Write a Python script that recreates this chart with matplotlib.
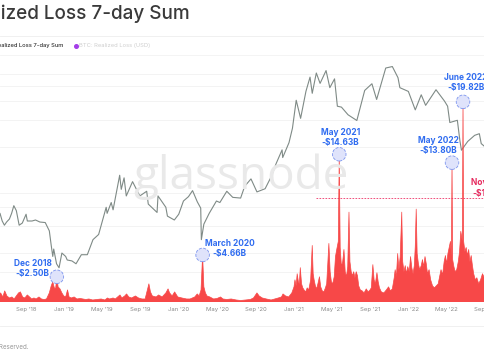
import matplotlib
matplotlib.use("Agg")
import matplotlib.pyplot as plt
import numpy as np
import pandas as pd

# ---------------- data ----------------
loss_dates = [
    "2018-05-28", "2018-06-01", "2018-06-05", "2018-06-12", "2018-06-19", "2018-06-25",
    "2018-07-02", "2018-07-10", "2018-07-18", "2018-07-25", "2018-08-01", "2018-08-08",
    "2018-08-14", "2018-08-21", "2018-08-28", "2018-09-05", "2018-09-12", "2018-09-19",
    "2018-09-26", "2018-10-03", "2018-10-12", "2018-10-20", "2018-10-28", "2018-11-05",
    "2018-11-14", "2018-11-20", "2018-11-25", "2018-11-30", "2018-12-04", "2018-12-08",
    "2018-12-12", "2018-12-18", "2018-12-24", "2018-12-30", "2019-01-05", "2019-01-11",
    "2019-01-16", "2019-01-23", "2019-02-01", "2019-02-10", "2019-02-20", "2019-03-01",
    "2019-03-10", "2019-03-20", "2019-04-01", "2019-04-15", "2019-04-28", "2019-05-10",
    "2019-05-18", "2019-05-25", "2019-06-05", "2019-06-12", "2019-06-27", "2019-07-03",
    "2019-07-12", "2019-07-18", "2019-07-25", "2019-08-03", "2019-08-15", "2019-08-25",
    "2019-09-05", "2019-09-15", "2019-09-27", "2019-10-02", "2019-10-08", "2019-10-20",
    "2019-10-28", "2019-11-08", "2019-11-20", "2019-11-27", "2019-12-02", "2019-12-10",
    "2019-12-18", "2019-12-28", "2020-01-10", "2020-01-25", "2020-02-05", "2020-02-20",
    "2020-02-28", "2020-03-05", "2020-03-11", "2020-03-16", "2020-03-20", "2020-03-25",
    "2020-03-30", "2020-04-08", "2020-04-20", "2020-05-01", "2020-05-12", "2020-05-20",
    "2020-06-01", "2020-06-15", "2020-07-01", "2020-07-15", "2020-08-01", "2020-08-15",
    "2020-08-25", "2020-09-05", "2020-09-12", "2020-09-22", "2020-10-05", "2020-10-20",
    "2020-11-01", "2020-11-12", "2020-11-22", "2020-11-27", "2020-12-05", "2020-12-15",
    "2020-12-25", "2021-01-01", "2021-01-04", "2021-01-08", "2021-01-11", "2021-01-15",
    "2021-01-18", "2021-01-21", "2021-01-25", "2021-01-29", "2021-02-02", "2021-02-07",
    "2021-02-12", "2021-02-17", "2021-02-23", "2021-02-28", "2021-03-03", "2021-03-06",
    "2021-03-10", "2021-03-14", "2021-03-18", "2021-03-23", "2021-03-27", "2021-04-01",
    "2021-04-06", "2021-04-11", "2021-04-15", "2021-04-19", "2021-04-22", "2021-04-26",
    "2021-04-30", "2021-05-04", "2021-05-09", "2021-05-13", "2021-05-17", "2021-05-22",
    "2021-05-25", "2021-05-28", "2021-06-01", "2021-06-05", "2021-06-09", "2021-06-13",
    "2021-06-17", "2021-06-21", "2021-06-25", "2021-06-28", "2021-07-02", "2021-07-06",
    "2021-07-10", "2021-07-14", "2021-07-18", "2021-07-22", "2021-07-26", "2021-07-31",
    "2021-08-06", "2021-08-12", "2021-08-19", "2021-08-25", "2021-08-31", "2021-09-04",
    "2021-09-09", "2021-09-13", "2021-09-17", "2021-09-22", "2021-09-26", "2021-09-30",
    "2021-10-06", "2021-10-14", "2021-10-22", "2021-10-29", "2021-11-04", "2021-11-10",
    "2021-11-16", "2021-11-19", "2021-11-23", "2021-11-27", "2021-12-01", "2021-12-05",
    "2021-12-10", "2021-12-13", "2021-12-17", "2021-12-21", "2021-12-25", "2021-12-29",
    "2022-01-03", "2022-01-07", "2022-01-11", "2022-01-15", "2022-01-19", "2022-01-22",
    "2022-01-25", "2022-01-28", "2022-02-01", "2022-02-05", "2022-02-10", "2022-02-14",
    "2022-02-18", "2022-02-22", "2022-02-26", "2022-03-02", "2022-03-07", "2022-03-12",
    "2022-03-18", "2022-03-24", "2022-03-30", "2022-04-05", "2022-04-10", "2022-04-14",
    "2022-04-19", "2022-04-24", "2022-04-28", "2022-05-02", "2022-05-06", "2022-05-10",
    "2022-05-14", "2022-05-17", "2022-05-19", "2022-05-21", "2022-05-25", "2022-05-29",
    "2022-06-03", "2022-06-08", "2022-06-12", "2022-06-16", "2022-06-21", "2022-06-23",
    "2022-06-25", "2022-06-29", "2022-07-03", "2022-07-07", "2022-07-11", "2022-07-15",
    "2022-07-19", "2022-07-23", "2022-07-27", "2022-08-01", "2022-08-06", "2022-08-12",
    "2022-08-18", "2022-08-24", "2022-08-30", "2022-09-05", "2022-09-15",
]
loss_values = [
    1.0, 1.3, 0.6, 0.9, 0.5, 1.1,
    0.6, 0.4, 0.5, 0.3, 0.6, 0.9,
    1.0, 0.5, 0.4, 0.7, 0.5, 0.3,
    0.4, 0.3, 0.5, 0.3, 0.25, 0.3,
    0.9, 1.6, 2.0, 1.4, 1.3, 2.50,
    1.5, 1.3, 0.9, 0.6, 0.5, 1.2,
    0.5, 0.4, 0.5, 0.3, 0.35, 0.3,
    0.25, 0.3, 0.2, 0.25, 0.3, 0.2,
    0.4, 0.3, 0.4, 0.3, 0.7, 0.4,
    0.6, 0.8, 0.5, 0.4, 0.6, 0.4,
    0.3, 0.3, 1.8, 1.0, 0.6, 0.5,
    0.7, 0.5, 0.9, 1.3, 0.9, 0.6,
    1.0, 0.5, 0.4, 0.3, 0.3, 0.5,
    0.8, 0.6, 1.2, 4.66, 1.5, 0.9,
    0.6, 0.5, 0.3, 0.35, 0.5, 0.3,
    0.25, 0.3, 0.2, 0.15, 0.2, 0.25,
    0.4, 0.9, 0.6, 0.4, 0.3, 0.2,
    0.3, 0.4, 0.5, 0.8, 0.6, 0.5,
    0.9, 1.5, 2.2, 1.6, 2.8, 2.0,
    1.8, 3.4, 1.8, 1.4, 1.2, 1.0,
    1.4, 1.2, 2.2, 5.6, 2.8, 2.2,
    1.6, 1.3, 1.8, 2.5, 1.5, 1.1,
    1.0, 1.4, 1.8, 4.0, 5.8, 3.0,
    2.0, 1.8, 2.5, 4.5, 5.2, 6.0,
    14.63, 5.4, 3.5, 4.0, 5.2, 3.0,
    2.5, 3.5, 8.9, 4.0, 3.0, 2.6,
    3.0, 2.4, 3.0, 2.6, 1.6, 1.2,
    1.1, 0.9, 1.3, 1.0, 1.2, 1.4,
    3.7, 2.2, 1.8, 2.9, 2.0, 1.4,
    1.0, 0.9, 1.2, 1.5, 1.1, 1.3,
    2.4, 3.2, 2.5, 4.8, 3.2, 4.5,
    8.9, 4.0, 3.0, 3.6, 2.8, 3.5,
    3.0, 4.5, 3.4, 2.8, 3.6, 5.5,
    9.2, 4.8, 3.8, 3.2, 3.6, 4.2,
    3.5, 4.5, 3.8, 2.8, 3.2, 2.2,
    1.6, 1.4, 1.6, 1.8, 2.6, 3.2,
    2.7, 4.0, 4.6, 3.8, 4.8, 5.4,
    6.0, 4.5, 13.80, 4.2, 3.5, 3.0,
    3.2, 4.0, 5.0, 7.0, 6.0, 19.82,
    6.0, 5.0, 5.4, 4.6, 5.2, 4.0,
    4.6, 3.6, 2.8, 2.2, 2.4, 1.8,
    2.2, 2.8, 2.4, 2.6, 2.5,
]

price_dates = [
    "2018-06-01", "2018-06-10", "2018-06-17", "2018-06-24", "2018-07-01", "2018-07-10",
    "2018-07-17", "2018-07-24", "2018-08-01", "2018-08-10", "2018-08-20", "2018-09-01",
    "2018-09-05", "2018-09-20", "2018-10-01", "2018-10-15", "2018-11-01", "2018-11-14",
    "2018-11-20", "2018-11-25", "2018-11-28", "2018-12-07", "2018-12-15", "2018-12-24",
    "2019-01-05", "2019-01-10", "2019-01-25", "2019-02-07", "2019-02-24", "2019-03-15",
    "2019-04-02", "2019-04-20", "2019-05-14", "2019-05-17", "2019-05-30", "2019-06-05",
    "2019-06-26", "2019-07-01", "2019-07-10", "2019-07-17", "2019-08-06", "2019-08-29",
    "2019-09-20", "2019-09-25", "2019-10-23", "2019-10-26", "2019-11-20", "2019-11-25",
    "2019-12-17", "2019-12-31", "2020-01-15", "2020-01-31", "2020-02-13", "2020-02-28",
    "2020-03-10", "2020-03-12", "2020-03-20", "2020-04-06", "2020-04-29", "2020-05-10",
    "2020-06-01", "2020-06-20", "2020-07-15", "2020-07-28", "2020-08-17", "2020-09-05",
    "2020-10-01", "2020-10-21", "2020-11-05", "2020-11-24", "2020-11-26", "2020-12-16",
    "2020-12-27", "2021-01-08", "2021-01-22", "2021-02-08", "2021-02-21", "2021-02-28",
    "2021-03-13", "2021-03-25", "2021-04-13", "2021-04-25", "2021-05-10", "2021-05-19",
    "2021-06-01", "2021-06-22", "2021-07-20", "2021-08-14", "2021-09-06", "2021-09-21",
    "2021-10-20", "2021-11-10", "2021-11-28", "2021-12-04", "2021-12-31", "2022-01-22",
    "2022-02-10", "2022-02-24", "2022-03-29", "2022-04-25", "2022-05-05", "2022-05-12",
    "2022-06-05", "2022-06-13", "2022-06-18", "2022-07-08", "2022-07-30", "2022-08-14",
    "2022-08-20", "2022-09-01", "2022-09-12",
]
price_values = [
    7500, 7300, 6500, 6100, 6400, 6700,
    7300, 8200, 7600, 6100, 6300, 7200,
    6500, 6500, 6600, 6400, 6350, 5600,
    4500, 3800, 4250, 3400, 3200, 4000,
    3800, 3600, 3550, 3400, 3900, 3900,
    4900, 5300, 8000, 7300, 8600, 7700,
    13000, 10500, 12500, 9500, 11800, 9500,
    10200, 8400, 7400, 9500, 8000, 7000,
    6600, 7200, 8800, 9400, 10300, 8700,
    7900, 4900, 6200, 7300, 8800, 8600,
    10200, 9300, 9200, 11000, 12300, 10100,
    10600, 12800, 15500, 19100, 17000, 21300,
    26500, 40500, 30800, 46400, 57500, 45000,
    61200, 52300, 63500, 49000, 56000, 37000,
    36500, 32500, 29800, 47000, 52000, 41000,
    66000, 67500, 57000, 49000, 46300, 35000,
    44000, 37500, 47500, 40000, 37000, 28900,
    29900, 22000, 19000, 21700, 23800, 24400,
    21000, 20000, 22300,
]

peak_labels = ["Dec 2018\n-$2.50B", "March 2020\n-$4.66B", "May 2021\n-$14.63B",
               "May 2022\n-$13.80B", "June 2022\n-$19.82B"]
peak_dates = ["2018-12-08", "2020-03-16", "2021-05-25", "2022-05-19", "2022-06-23"]
peak_values = [2.50, 4.66, 14.63, 13.80, 19.82]

nov_label = "Nov 2022\n-$10.30B"
nov_value = 10.30

tick_dates = ["2018-09-01", "2019-01-01", "2019-05-01", "2019-09-01", "2020-01-01",
              "2020-05-01", "2020-09-01", "2021-01-01", "2021-05-01", "2021-09-01",
              "2022-01-01", "2022-05-01", "2022-09-01"]
tick_labels = ["Sep '18", "Jan '19", "May '19", "Sep '19", "Jan '20", "May '20",
               "Sep '20", "Jan '21", "May '21", "Sep '21", "Jan '22", "May '22", "Sep '22"]

price_grid = [3000, 4000, 6000, 8000, 10000, 20000, 30000, 40000, 50000, 60000]

# ---------------- figure ----------------
W, H = 485, 360
plt.rcParams['font.family'] = ['Inter', 'DejaVu Sans']
fig = plt.figure(figsize=(W / 100, H / 100), dpi=100)
fig.patch.set_facecolor('white')

def fx(px):
    return px / W

def fy(py):
    return 1 - py / H

ax_bottom, ax_top = 302, 55
ax = fig.add_axes([0, fy(ax_bottom), 1, (ax_bottom - ax_top) / H])
ax2 = ax.twinx()

x0 = np.datetime64("2018-06-10")
x1 = np.datetime64("2022-09-01")

# price axis (bottom layer)
ax.set_yscale('log')
ax.set_ylim(1905, 80400)
for g in price_grid:
    ax.axhline(g, color='#f1f1f1', lw=0.6, zorder=0)
pdates = pd.to_datetime(price_dates)
ax.plot(pdates, price_values, color='#7f8a86', lw=0.8, zorder=3)

# watermark
fig.text(fx(241), fy(189), "glassnode", ha='center', va='baseline', fontsize=33,
         color='#e9e9e9', family=['Open Sans', 'DejaVu Sans'], zorder=0)

# loss axis (top layer)
ax2.set_ylim(0, (ax_bottom - ax_top) / 10.1)
ldates = pd.to_datetime(loss_dates)
ax2.fill_between(ldates, 0, loss_values, color='#f74848', lw=0, zorder=2)
ax2.plot(ldates, loss_values, color='#f74848', lw=0.5, zorder=2)

ax2.plot([pd.Timestamp("2021-03-12"), pd.Timestamp("2022-12-31")], [nov_value, nov_value],
         color='#ee3366', lw=0.6, ls=(0, (2, 1.6)), zorder=4)

blue = '#2f6cf0'
pk_dates = pd.to_datetime(peak_dates)
ax2.scatter(pk_dates, peak_values, s=95, facecolor='#dfe3fb', edgecolor='#7d95ee',
            linewidths=0.6, linestyles='--', zorder=6, clip_on=False)
offsets = [(-24, 8), (27, 6), (1, 17), (-14, 17.5), (3, 19)]
for lab, d, v, off in zip(peak_labels, pk_dates, peak_values, offsets):
    ax2.annotate(lab, (d, v), xytext=off, textcoords='offset pixels', ha='center',
                 va='center', color=blue, fontsize=6, fontweight='bold',
                 linespacing=1.15, zorder=7, annotation_clip=False)

fig.text(fx(491), fy(188), nov_label, ha='center', va='center', color='#e62a5e',
         fontsize=6, fontweight='bold', linespacing=1.15)

for a in (ax, ax2):
    a.set_xlim(x0, x1)
    for s in a.spines.values():
        s.set_visible(False)
    a.tick_params(length=0)
ax2.set_yticks([])
ax.set_yticks([])
ax.minorticks_off()
ax.set_yticks([], minor=True)
ax.set_xticks(pd.to_datetime(tick_dates))
ax.set_xticklabels(tick_labels, fontsize=4.3, color='#8a8a8a')
ax.tick_params(axis='x', pad=3.3)
ax.patch.set_visible(False)

# header
fig.text(fx(190), fy(13.5), "Realized Loss 7-day Sum", ha='right', va='center',
         fontsize=13.6, color='#3a3a3a', fontweight='medium')
fig.add_artist(plt.Line2D([0, 1], [fy(36), fy(36)], color='#eeeeee', lw=0.6))
fig.add_artist(plt.Line2D([0, 1], [fy(55), fy(55)], color='#f3f3f3', lw=0.6))
fig.text(fx(63), fy(45.5), "Realized Loss 7-day Sum", ha='right', va='center',
         fontsize=4.2, color='#333333', fontweight='medium')
fig.add_artist(plt.Line2D([fx(76)], [fy(45.5)], marker='o', ms=2.6, color='#a43ee8', lw=0))
fig.text(fx(79.5), fy(45.5), "BTC: Realized Loss (USD)", ha='left', va='center',
         fontsize=4.2, color='#cfcfcf')

# footer
fig.add_artist(plt.Line2D([0, 1], [fy(326), fy(326)], color='#eeeeee', lw=0.6))
fig.text(fx(28), fy(347), "\u00a9 2022 Glassnode. All Rights Reserved.", ha='right',
         va='center', fontsize=4.5, color='#999999')

fig.savefig("out.png", dpi=100, facecolor='white')
